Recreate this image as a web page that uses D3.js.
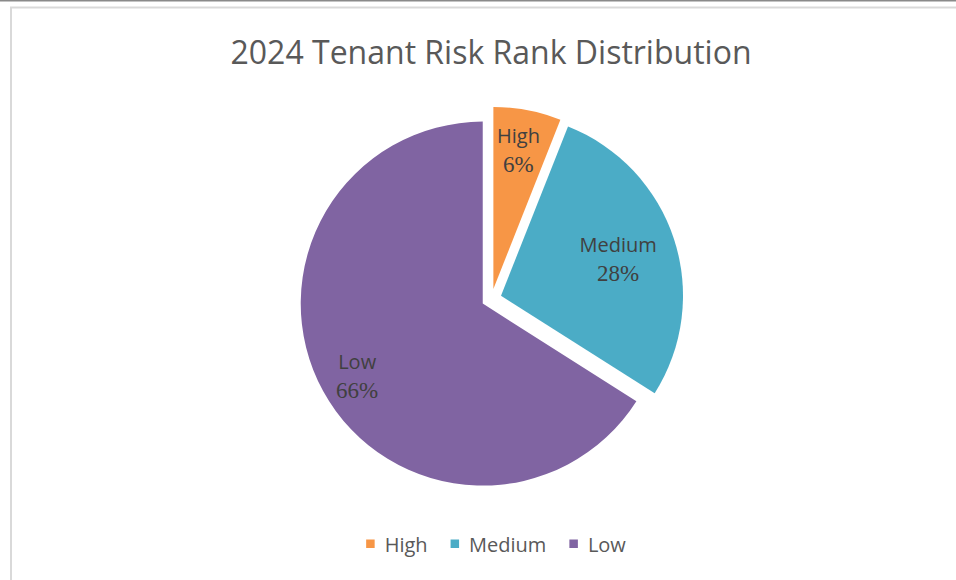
<!DOCTYPE html>
<html>
<head>
<meta charset="utf-8">
<script src="https://cdn.jsdelivr.net/npm/d3@7"></script>
<style>
  html, body { margin: 0; padding: 0; background: #fff; }
  svg { display: block; }
  text.pct { font-family: "Liberation Serif", Tinos, "Times New Roman", serif !important; }
</style>
</head>
<body>
<svg id="chart" width="956" height="580"></svg>
<script>
// Risk rank shares for 2024 tenants
const categories = ["High", "Medium", "Low"];
const shares = [6, 28, 66];
const colors = ["#F79646", "#4BACC6", "#8064A2"];
const chartTitle = "2024 Tenant Risk Rank Distribution";

const SANS = "'Open Sans', sans-serif";

const W = 956, H = 580;
const svg = d3.select("#chart");

// page frame: dark rule on top, light chart-area border
svg.append("rect").attr("x", 0).attr("y", 0).attr("width", W).attr("height", 1.5).attr("fill", "#8a8a8a");
svg.append("rect")
  .attr("x", 11).attr("y", 7.5)
  .attr("width", W + 20).attr("height", H + 20)
  .attr("fill", "none").attr("stroke", "#d9d9d9").attr("stroke-width", 2);

// title
svg.append("text")
  .style("font-family", SANS)
  .attr("x", 491).attr("y", 64)
  .attr("text-anchor", "middle")
  .style("font-size", "32px")
  .attr("fill", "#595959")
  .text(chartTitle);

// pie geometry
const cx = 491.5, cy = 298.8, R = 182, explode = 10;
const pie = d3.pie().sort(null).value(d => d.v).startAngle(0).endAngle(2 * Math.PI);
const arc = d3.arc().innerRadius(0).outerRadius(R);
const rows = categories.map((c, i) => ({ name: c, v: shares[i], color: colors[i] }));
const arcs = pie(rows);
const total = d3.sum(shares);

// label placement inside each slice: fraction along the slice's sweep, distance as share of radius
const labelSweep = [0.5, 0.54, 0.485];
const labelDist = [0.736, 0.663, 0.817];

const g = svg.append("g").attr("transform", `translate(${cx},${cy})`);

const slices = g.selectAll("g.slice").data(arcs).enter().append("g")
  .attr("class", "slice")
  .attr("transform", d => {
    const a = (d.startAngle + d.endAngle) / 2;
    return `translate(${explode * Math.sin(a)},${-explode * Math.cos(a)})`;
  });

slices.append("path")
  .attr("d", arc)
  .attr("fill", d => d.data.color);

slices.each(function (d, i) {
  const a = d.startAngle + labelSweep[i] * (d.endAngle - d.startAngle);
  const r = labelDist[i] * R;
  const lx = r * Math.sin(a), ly = -r * Math.cos(a);
  const sel = d3.select(this);
  sel.append("text")
    .style("font-family", SANS)
    .style("font-size", "20px")
    .attr("x", lx).attr("y", ly - 14.5)
    .attr("text-anchor", "middle")
    .attr("fill", "#404040")
    .text(d.data.name);
  sel.append("text")
    .attr("class", "pct")
    .style("font-size", "23px")
    .attr("x", lx).attr("y", ly + 14.5)
    .attr("text-anchor", "middle")
    .attr("fill", "#404040")
    .text(Math.round(d.data.v / total * 100) + "%");
});

// legend, centred under the pie
const legend = svg.append("g");
const items = legend.selectAll("g").data(rows).enter().append("g");
items.append("rect").attr("width", 8.5).attr("height", 8.5).attr("y", -12.5).attr("fill", d => d.color);
items.append("text")
  .style("font-family", SANS)
  .style("font-size", "20px")
  .attr("x", 18.5).attr("y", 0)
  .attr("fill", "#595959")
  .text(d => d.name);
let xpos = 0;
items.each(function () {
  const w = 18.5 + d3.select(this).select("text").node().getComputedTextLength();
  d3.select(this).attr("transform", `translate(${xpos},0)`);
  xpos += w + 23;
});
const legendWidth = xpos - 23;
legend.attr("transform", `translate(${496 - legendWidth / 2},552)`);
</script>
</body>
</html>
